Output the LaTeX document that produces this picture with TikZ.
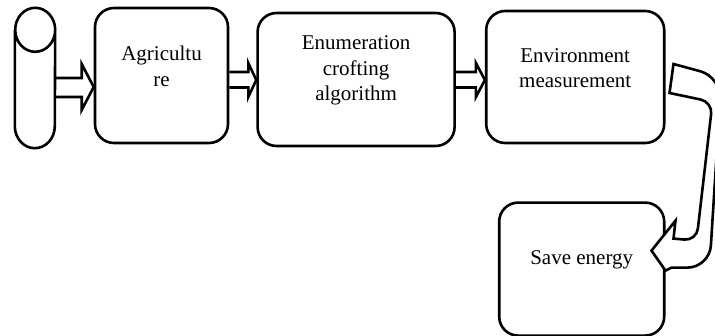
\documentclass[tikz,border=0pt]{standalone}
\usepackage{fontspec}
\setmainfont{Liberation Serif}
\usetikzlibrary{shapes.geometric, positioning}
\tikzstyle{box} = [rectangle, rounded corners=19pt, draw=black, line width=2.6pt, fill=white]
\tikzstyle{boxtext} = [align=center, font=\fontsize{21}{25.5}\selectfont]
\tikzstyle{store} = [rectangle, minimum width=40pt, minimum height=140pt, inner sep=0pt]
\tikzstyle{hollow} = [draw=black, line width=2.6pt, line join=miter]

\begin{document}
\begin{tikzpicture}[x=1pt, y=-1pt]
\useasboundingbox (0,0) rectangle (715,335);

% Source (drum)
\node (source) [store] at (35,78) {};
\draw [line width=2.6pt] ([yshift=-22pt]source.north west) -- ([yshift=22pt]source.south west)
  arc[start angle=180, end angle=0, x radius=20, y radius=22] -- ([yshift=-22pt]source.north east)
  arc[start angle=0, end angle=-180, x radius=20, y radius=22]
  arc[start angle=180, end angle=0, x radius=20, y radius=22];

% Agriculture
\node (agri) [box, minimum width=133pt, minimum height=135pt,
  label={[boxtext, yshift=9pt]center:{Agricultu\\re}}] at (161.5,75.5) {};

% Enumeration crofting algorithm
\node (enum) [box, minimum width=197pt, minimum height=133pt, right=27pt of agri, yshift=-4pt,
  label={[boxtext, yshift=9pt]center:{Enumeration\\crofting\\algorithm}}] {};

% Environment measurement
\node (env) [box, minimum width=178pt, minimum height=132pt, right=29pt of enum, yshift=2.5pt,
  label={[boxtext, yshift=9pt]center:{Environment\\measurement}}] {};

% Save energy
\node (save) [box, minimum width=165pt, minimum height=133pt, below=57pt of env, xshift=6.5pt,
  label={[boxtext, yshift=9pt]center:{Save energy}}] {};

% Arrows
\draw [hollow] ([shift={(0,0)}]source.east) -- ([shift={(-12,2.5)}]agri.west) -- ([shift={(-12,-11.5)}]agri.west)
  -- ([shift={(0,11.5)}]agri.west) -- ([shift={(-12,34.5)}]agri.west) -- ([shift={(-12,21.5)}]agri.west)
  -- ([shift={(0,19)}]source.east);
\draw [hollow] ([shift={(0,-3.5)}]agri.east) -- ([shift={(-8,-7.5)}]enum.west) -- ([shift={(-8,-16.5)}]enum.west)
  -- ([shift={(0,0.5)}]enum.west) -- ([shift={(-8,17.5)}]enum.west) -- ([shift={(-8,8)}]enum.west)
  -- ([shift={(0,12)}]agri.east);
\draw [hollow] ([shift={(0,-7.5)}]enum.east) -- ([shift={(-9,-5)}]env.west) -- ([shift={(-9,-14)}]env.west)
  -- ([shift={(0,3)}]env.west) -- ([shift={(-9,20)}]env.west) -- ([shift={(-9,10.5)}]env.west)
  -- ([shift={(0,8)}]enum.east);
\draw [hollow, fill=white] ([shift={(8,-13)}]env.east) -- ([shift={(4,16)}]env.east)
  [rounded corners=12pt] -- ([shift={(47,25)}]env.east) -- ([shift={(31,-28.5)}]save.east)
  [sharp corners] -- ([shift={(8,-30.5)}]save.east) -- ([shift={(10,-48.5)}]save.east)
  -- ([shift={(-14,-18.5)}]save.east) -- ([shift={(0,1.5)}]save.east) -- ([shift={(6,-1.5)}]save.east)
  [rounded corners=22pt] -- ([shift={(44,-1.5)}]save.east) -- ([shift={(56,0)}]env.east)
  [sharp corners] -- cycle;

\end{tikzpicture}
\end{document}
